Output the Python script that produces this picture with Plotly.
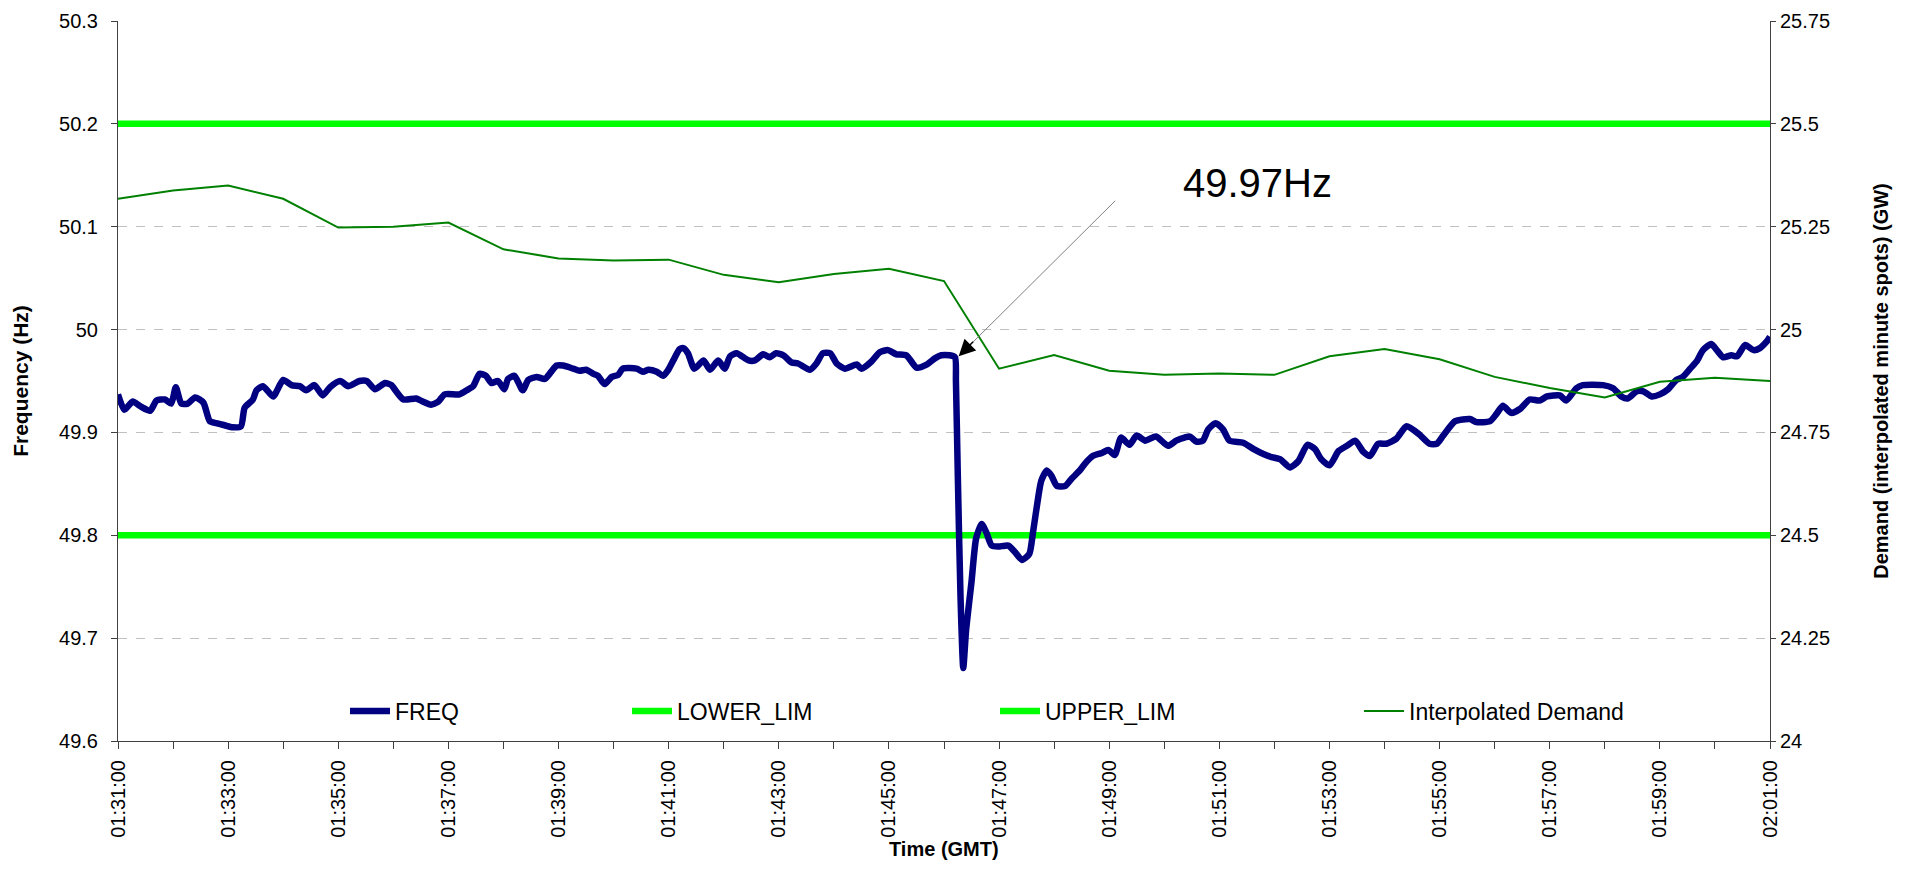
import plotly.graph_objects as go

DAY = "2000-01-01 "

freq_time = [
    "01:31:00","01:31:07","01:31:16","01:31:25","01:31:35","01:31:42","01:31:51","01:31:58",
    "01:32:03","01:32:09","01:32:16","01:32:24","01:32:33","01:32:40","01:32:47","01:32:56",
    "01:33:05","01:33:14","01:33:18","01:33:27","01:33:31","01:33:38","01:33:49","01:34:00",
    "01:34:09","01:34:18","01:34:25","01:34:34","01:34:43","01:34:51","01:35:02","01:35:11",
    "01:35:23","01:35:31","01:35:40","01:35:51","01:35:58",
    "01:36:03","01:36:11","01:36:25","01:36:32","01:36:41","01:36:49","01:36:56","01:37:12",
    "01:37:20","01:37:27","01:37:34","01:37:41","01:37:47","01:37:54","01:38:01","01:38:05",
    "01:38:12","01:38:21","01:38:27","01:38:36","01:38:45","01:38:52","01:38:58","01:39:05",
    "01:39:16","01:39:23","01:39:30","01:39:38","01:39:43","01:39:50","01:39:58","01:40:05",
    "01:40:10","01:40:25","01:40:32","01:40:38","01:40:47","01:40:54","01:40:59","01:41:05",
    "01:41:12",
    "01:41:16","01:41:21","01:41:28","01:41:38","01:41:45","01:41:54","01:42:01","01:42:07",
    "01:42:14","01:42:27","01:42:34","01:42:43","01:42:50","01:42:57","01:43:05","01:43:14",
    "01:43:21","01:43:34","01:43:41","01:43:48","01:43:56","01:44:03","01:44:12","01:44:25",
    "01:44:30","01:44:41","01:44:50","01:44:59","01:45:08","01:45:19","01:45:30","01:45:41",
    "01:45:50","01:45:57","01:46:06","01:46:12",
    "01:46:13","01:46:15","01:46:18","01:46:21","01:46:24","01:46:30","01:46:35","01:46:41",
    "01:46:46","01:46:52","01:46:59","01:47:10","01:47:17","01:47:25","01:47:33","01:47:37",
    "01:47:43","01:47:46","01:47:52","01:47:57","01:48:03","01:48:12","01:48:19","01:48:28",
    "01:48:33","01:48:42","01:48:52","01:48:59","01:49:06","01:49:13","01:49:22","01:49:30",
    "01:49:39","01:49:51","01:50:04","01:50:13","01:50:22","01:50:28","01:50:35","01:50:42",
    "01:50:48","01:50:56","01:51:04","01:51:11","01:51:26","01:51:37","01:51:48","01:51:57",
    "01:52:06","01:52:17","01:52:26","01:52:36","01:52:44","01:52:51","01:53:00","01:53:10",
    "01:53:19","01:53:28",
    "01:53:37","01:53:44","01:53:53","01:54:02","01:54:13","01:54:24","01:54:38","01:54:49",
    "01:54:57","01:55:04","01:55:17","01:55:33","01:55:40","01:55:55","01:56:02","01:56:09",
    "01:56:18","01:56:28","01:56:38","01:56:49","01:56:57","01:57:11","01:57:18","01:57:29",
    "01:57:36","01:57:58","01:58:09","01:58:18","01:58:25","01:58:35","01:58:42","01:58:51",
    "01:59:00","01:59:09","01:59:18","01:59:25","01:59:33","01:59:40","01:59:47","01:59:56",
    "02:00:02","02:00:09","02:00:18","02:00:24","02:00:33","02:00:42","02:00:49","02:00:56",
    "02:01:00",
]

freq_hz = [
    49.937,49.922,49.930,49.925,49.921,49.931,49.932,49.928,
    49.944,49.928,49.928,49.934,49.929,49.911,49.909,49.907,
    49.905,49.906,49.924,49.932,49.941,49.945,49.935,49.951,
    49.946,49.945,49.941,49.946,49.936,49.944,49.950,49.945,
    49.950,49.950,49.942,49.948,49.946,
    49.940,49.932,49.933,49.930,49.927,49.930,49.937,49.937,
    49.941,49.945,49.957,49.955,49.948,49.950,49.942,49.952,
    49.955,49.941,49.951,49.954,49.952,49.959,49.965,49.965,
    49.962,49.960,49.961,49.957,49.955,49.947,49.954,49.956,
    49.962,49.962,49.959,49.961,49.959,49.955,49.960,49.970,
    49.981,
    49.982,49.977,49.962,49.970,49.961,49.970,49.962,49.974,
    49.977,49.970,49.970,49.976,49.973,49.977,49.975,49.968,
    49.967,49.961,49.967,49.977,49.977,49.967,49.962,49.966,
    49.962,49.969,49.978,49.980,49.976,49.975,49.963,49.966,
    49.972,49.975,49.975,49.973,
    49.950,49.860,49.740,49.671,49.707,49.755,49.797,49.811,
    49.803,49.790,49.789,49.790,49.784,49.776,49.782,49.803,
    49.839,49.853,49.863,49.858,49.848,49.848,49.855,49.863,
    49.869,49.877,49.880,49.883,49.878,49.895,49.888,49.897,
    49.892,49.896,49.887,49.892,49.895,49.896,49.891,49.892,
    49.903,49.909,49.903,49.892,49.890,49.884,49.879,49.876,
    49.874,49.866,49.872,49.888,49.884,49.874,49.868,49.882,
    49.887,49.892,
    49.881,49.877,49.889,49.889,49.894,49.906,49.898,49.889,
    49.889,49.897,49.911,49.913,49.910,49.911,49.918,49.926,
    49.919,49.923,49.932,49.931,49.935,49.936,49.931,49.943,
    49.946,49.946,49.943,49.935,49.933,49.940,49.940,49.935,
    49.937,49.942,49.951,49.954,49.962,49.969,49.980,49.986,
    49.980,49.973,49.975,49.974,49.985,49.980,49.982,49.988,
    49.993,
]

limit_time = ["01:31:00", "02:01:00"]
lower_lim = [49.8, 49.8]
upper_lim = [50.2, 50.2]

demand_time = [
    "01:31:00","01:32:00","01:33:00","01:34:00","01:35:00","01:36:00","01:37:00","01:38:00",
    "01:39:00","01:40:00","01:41:00","01:42:00","01:43:00","01:44:00","01:45:00","01:46:00",
    "01:47:00","01:48:00","01:49:00","01:50:00","01:51:00","01:52:00","01:53:00","01:54:00",
    "01:55:00","01:56:00","01:57:00","01:58:00","01:59:00","02:00:00","02:01:00",
]
demand_gw = [
    25.318,25.338,25.350,25.318,25.248,25.250,25.260,25.195,
    25.173,25.168,25.170,25.133,25.115,25.135,25.148,25.118,
    24.905,24.938,24.900,24.890,24.893,24.890,24.935,24.953,
    24.928,24.885,24.858,24.835,24.873,24.883,24.875,
]

x_tick_labels = ["01:31:00","01:33:00","01:35:00","01:37:00","01:39:00","01:41:00","01:43:00",
                 "01:45:00","01:47:00","01:49:00","01:51:00","01:53:00","01:55:00","01:57:00",
                 "01:59:00","02:01:00"]
x_minor_ticks = ["01:%02d:00" % m for m in range(31, 60)] + ["02:00:00", "02:01:00"]
freq_ticks = [49.6, 49.7, 49.8, 49.9, 50.0, 50.1, 50.2, 50.3]
freq_tick_labels = ["49.6", "49.7", "49.8", "49.9", "50", "50.1", "50.2", "50.3"]
demand_ticks = [24.0, 24.25, 24.5, 24.75, 25.0, 25.25, 25.5, 25.75]
demand_tick_labels = ["24", "24.25", "24.5", "24.75", "25", "25.25", "25.5", "25.75"]

x_title = "Time (GMT)"
annot_text = "49.97Hz"
annot_time = "01:46:16"
annot_value = 49.974

FONT = "Liberation Sans, Arial, sans-serif"

def d(ts):
    return [DAY + t for t in ts]

fig = go.Figure()
fig.add_trace(go.Scatter(x=d(limit_time), y=lower_lim, mode="lines", name="LOWER_LIM",
                         line=dict(color="#00ff00", width=6.5), legend="legend2"))
fig.add_trace(go.Scatter(x=d(limit_time), y=upper_lim, mode="lines", name="UPPER_LIM",
                         line=dict(color="#00ff00", width=6.5), legend="legend3"))
fig.add_trace(go.Scatter(x=d(demand_time), y=demand_gw, mode="lines", name="Interpolated Demand",
                         line=dict(color="#008000", width=2), yaxis="y2", legend="legend4"))
fig.add_trace(go.Scatter(x=d(freq_time), y=freq_hz, mode="lines", name="FREQ",
                         line=dict(color="#000080", width=6.5, shape="spline", smoothing=0.6),
                         legend="legend"))

# page is rendered with an 8px body margin: compensate
OFF = 8
W, H = 1913 - 2 * OFF, 871 - 2 * OFF
# plot area in page coordinates
L, R, T, B = 118, 1770, 21, 741
pw, ph = R - L, B - T

def px(xp):
    return (xp - L) / pw

def py(yp):
    return (B - yp) / ph

leg_common = dict(orientation="h", yanchor="middle", xanchor="left", bgcolor="rgba(0,0,0,0)",
                  font=dict(family=FONT, size=23, color="black"), itemwidth=40)
ly = py(711)

fig.update_layout(
    width=W, height=H,
    margin=dict(l=L - OFF, r=W - (R - OFF), t=T - OFF, b=H - (B - OFF), autoexpand=False),
    paper_bgcolor="white", plot_bgcolor="white",
    font=dict(family=FONT, color="black"),
    showlegend=True,
    legend=dict(x=px(345), y=ly, **leg_common),
    legend2=dict(x=px(627), y=ly, **leg_common),
    legend3=dict(x=px(995), y=ly, **leg_common),
    legend4=dict(x=px(1359), y=ly, **leg_common),
    xaxis=dict(
        type="date", automargin=False,
        range=[DAY + "01:31:00", DAY + "02:01:00"],
        tickmode="array", tickvals=d(x_tick_labels), ticktext=x_tick_labels,
        tickangle=-90, tickfont=dict(family=FONT, size=20, color="black"),
        ticks="outside", ticklen=7, tickcolor="#404040",
        ticklabelstandoff=3,
        minor=dict(tickmode="array", tickvals=d(x_minor_ticks), ticks="outside", ticklen=7,
                   tickcolor="#404040", showgrid=False),
        showgrid=False, zeroline=False,
        showline=True, linecolor="#404040", linewidth=1,
    ),
    yaxis=dict(
        range=[49.6, 50.3], automargin=False,
        tickmode="array", tickvals=freq_ticks, ticktext=freq_tick_labels,
        tickfont=dict(family=FONT, size=20, color="black"),
        ticks="outside", ticklen=6, tickcolor="#404040",
        ticklabelstandoff=9,
        showgrid=True, gridcolor="#c0c0c0", gridwidth=1, griddash="dash",
        zeroline=False,
        showline=True, linecolor="#404040", linewidth=1,
        title=dict(text="<b>Frequency (Hz)</b>", font=dict(family=FONT, size=21, color="black"),
                   standoff=24),
    ),
    yaxis2=dict(
        range=[24.0, 25.75], overlaying="y", side="right", automargin=False,
        tickmode="array", tickvals=demand_ticks, ticktext=demand_tick_labels,
        tickfont=dict(family=FONT, size=20, color="black"),
        ticks="outside", ticklen=5, tickcolor="#404040",
        ticklabelstandoff=0,
        showgrid=False, zeroline=False,
        showline=True, linecolor="#404040", linewidth=1,
        title=dict(text="<b>Demand (interpolated minute spots) (GW)</b>",
                   font=dict(family=FONT, size=20, color="black"), standoff=44),
    ),
    annotations=[
        dict(x=DAY + annot_time, y=annot_value, xref="x", yref="y", text="",
             showarrow=True, arrowhead=0, arrowwidth=1, arrowcolor="#808080",
             ax=158, ay=-157, axref="pixel", ayref="pixel"),
        dict(x=DAY + annot_time, y=annot_value, xref="x", yref="y", text="",
             showarrow=True, arrowhead=2, arrowsize=2.2, arrowwidth=1.5, arrowcolor="black",
             ax=16, ay=-16, axref="pixel", ayref="pixel"),
        dict(x=px(1257), y=py(183), xref="paper", yref="paper", text=annot_text,
             showarrow=False, font=dict(family=FONT, size=40, color="black"),
             xanchor="center", yanchor="middle"),
        dict(x=0.5, y=py(849), xref="paper", yref="paper", text="<b>" + x_title + "</b>",
             showarrow=False, font=dict(family=FONT, size=20, color="black"),
             xanchor="center", yanchor="middle"),
    ],
)

fig.write_html("out.html")
